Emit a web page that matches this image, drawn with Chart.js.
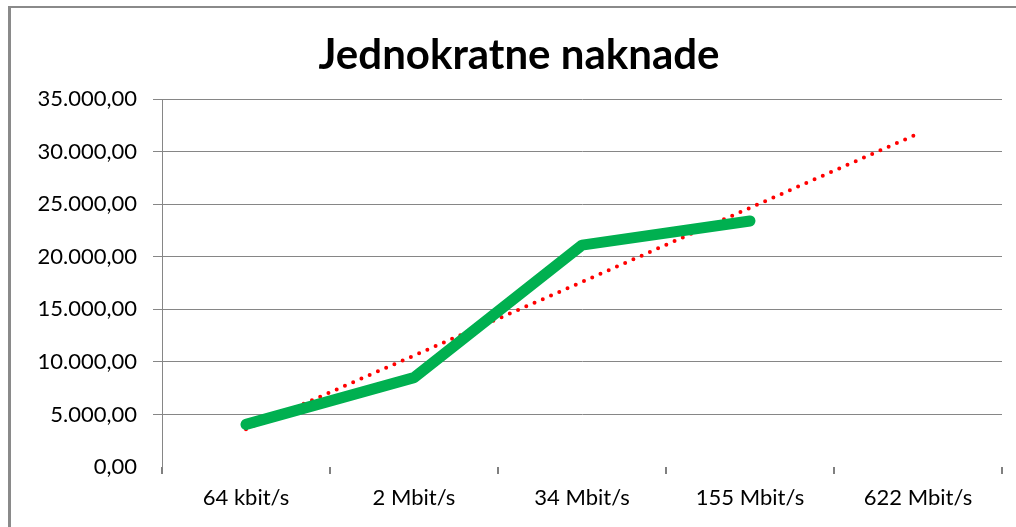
<!DOCTYPE html>
<html>
<head>
<meta charset="utf-8">
<script src="https://cdn.jsdelivr.net/npm/chart.js@4"></script>
<style>
  html, body { margin: 0; padding: 0; background: #fff; overflow: hidden; }
  #frame {
    position: absolute; left: 8px; top: 6px; width: 1100px; height: 600px;
    border-left: 3px solid #8a8a8a; border-top: 2px solid #8a8a8a;
  }
  #wrap { position: absolute; left: 0; top: 0; width: 1016px; height: 527px; }
</style>
</head>
<body>
<div id="frame"></div>
<div id="wrap"><canvas id="chart"></canvas></div>
<script>
// Data
var categories = ['64 kbit/s', '2 Mbit/s', '34 Mbit/s', '155 Mbit/s', '622 Mbit/s'];
var naknade = [4050, 8500, 21100, 23400, null];   // green series
var trend = [3600, 10600, 17600, 24650, 31700];   // red dotted trend line
var yTicks = [0, 5000, 10000, 15000, 20000, 25000, 30000, 35000];
var chartTitle = 'Jednokratne naknade';

var gridGray = '#868686';

function fmt(v) {
    // 35000 -> "35.000,00"
    var s = Math.round(v).toString().replace(/\B(?=(\d{3})+(?!\d))/g, '.');
    return s + ',00';
}

// Title drawn centred on the whole frame (not only on the canvas box)
var titlePlugin = {
    id: 'frameTitle',
    afterDraw: function (chart) {
        var ctx = chart.ctx;
        ctx.save();
        ctx.font = 'bold 42px Lato';
        ctx.fillStyle = '#000';
        ctx.textAlign = 'center';
        ctx.textBaseline = 'middle';
        ctx.fillText(chartTitle, 519, 55);
        ctx.restore();
    }
};

new Chart(document.getElementById('chart'), {
    type: 'line',
    data: {
        labels: categories,
        datasets: [{
            label: chartTitle,
            data: naknade,
            borderColor: '#00B050',
            backgroundColor: '#00B050',
            borderWidth: 11,
            borderCapStyle: 'round',
            borderJoinStyle: 'round',
            pointRadius: 0,
            tension: 0,
            fill: false,
        }, {
            label: 'Linear',
            data: trend,
            borderColor: '#FF0000',
            borderWidth: 4,
            borderDash: [0, 9],
            borderCapStyle: 'round',
            pointRadius: 0,
            tension: 0,
            fill: false,
        }]
    },
    options: {
        responsive: true,
        maintainAspectRatio: false,
        animation: false,
        layout: { padding: { left: 0, right: 14, top: 99, bottom: 0 } },
        plugins: {
            legend: { display: false },
            tooltip: { enabled: false },
            title: { display: false },
        },
        scales: {
            x: {
                offset: true,
                afterFit: function (scale) { scale.height = 60; },
                grid: {
                    offset: true,
                    drawOnChartArea: false,
                    drawTicks: true,
                    tickLength: 7,
                    color: '#808080',
                    lineWidth: 2,
                },
                border: { display: false },
                ticks: {
                    color: '#000',
                    padding: 11,
                    maxRotation: 0,
                    font: { family: 'Lato', size: 22 },
                },
            },
            y: {
                min: 0,
                max: 35000,
                afterFit: function (scale) { scale.width = 162; },
                afterBuildTicks: function (scale) {
                    scale.ticks = yTicks.map(function (v) { return { value: v }; });
                },
                grid: {
                    color: function (ctx) { return ctx.tick && ctx.tick.value === 0 ? 'rgba(0,0,0,0)' : gridGray; },
                    tickLength: 9,
                    lineWidth: 1,
                },
                border: { display: true, color: gridGray, width: 1 },
                ticks: {
                    color: '#000',
                    padding: 16,
                    font: { family: 'Lato', size: 22 },
                    callback: function (val) { return fmt(val); },
                },
            },
        },
    },
    plugins: [titlePlugin],
});
</script>
</body>
</html>
